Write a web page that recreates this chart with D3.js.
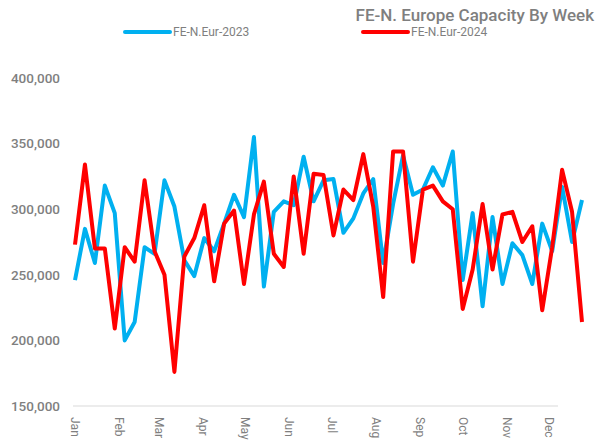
<!DOCTYPE html>
<html lang="en">
<head>
<meta charset="UTF-8">
<title>FE-N. Europe Capacity By Week</title>
<script src="https://d3js.org/d3.v7.min.js"></script>
<style>
    body { margin: 0; background: #fff; }
    text { font-family: Roboto, "DejaVu Sans", sans-serif; fill: #7f7f7f; }
</style>
</head>
<body>
<svg id="chart" width="597" height="443"></svg>
<script>
    // weekly values, 52 weeks
    const weeks = d3.range(52).map(i => new Date(2023, 0, 1 + 7 * i));

    const eur2023 = [246000, 285000, 259000, 318000, 297000, 200000, 214000, 271000, 266000, 322000,
        302000, 261000, 249000, 278000, 268000, 289000, 311000, 294000, 355000, 241000,
        298000, 306000, 303000, 340000, 306000, 322000, 323000, 282000, 293000, 312000,
        323000, 259000, 304000, 341000, 311000, 315000, 332000, 318000, 344000, 246000,
        297000, 226000, 294000, 243000, 274000, 265000, 243000, 289000, 268000, 317000,
        275000, 307000];

    const eur2024 = [273000, 334000, 270000, 270000, 209000, 271000, 260000, 322000, 268000, 250000,
        176000, 264000, 278000, 303000, 245000, 289000, 299000, 243000, 296000, 321000,
        266000, 256000, 325000, 266000, 327000, 326000, 280000, 315000, 307000, 342000,
        302000, 233000, 344000, 344000, 260000, 315000, 318000, 306000, 300000, 224000,
        254000, 304000, 254000, 296000, 298000, 275000, 287000, 223000, 271000, 330000,
        298000, 214000];

    const yTicks = [150000, 200000, 250000, 300000, 350000, 400000];
    const months = d3.timeMonth.range(new Date(2023, 0, 1), new Date(2023, 11, 2));

    const series = [
        { name: 'FE-N.Eur-2023', values: eur2023, color: '#00b0f0' },
        { name: 'FE-N.Eur-2024', values: eur2024, color: '#ff0000' }
    ];

    const svg = d3.select('#chart');

    const x = d3.scaleTime()
        .domain([weeks[0], weeks[51]])
        .range([75, 582]);

    const y = d3.scaleLinear()
        .domain([150000, 400000])
        .range([406, 78]);

    // bottom axis line
    svg.append('line')
        .attr('x1', 73).attr('x2', 558)
        .attr('y1', y(150000)).attr('y2', y(150000))
        .attr('stroke', '#d9d9d9').attr('stroke-width', 1);

    // y labels
    svg.append('g')
        .selectAll('text')
        .data(yTicks)
        .join('text')
        .attr('x', 60)
        .attr('y', d => y(d))
        .attr('dy', '0.35em')
        .attr('text-anchor', 'end')
        .attr('font-size', 13.5)
        .attr('font-weight', 500)
        .text(d => d3.format(',')(d));

    // month labels, rotated
    svg.append('g')
        .selectAll('text')
        .data(months)
        .join('text')
        .attr('transform', d => `translate(${x(d) - 4},417) rotate(90)`)
        .attr('font-size', 12)
        .text(d => d3.timeFormat('%b')(d));

    // lines
    const line = d3.line()
        .x((d, i) => x(weeks[i]))
        .y(d => y(d));

    svg.append('g')
        .selectAll('path')
        .data(series)
        .join('path')
        .attr('d', d => line(d.values))
        .attr('fill', 'none')
        .attr('stroke', d => d.color)
        .attr('stroke-width', 4)
        .attr('stroke-linejoin', 'round');

    // title
    svg.append('text')
        .attr('x', 594)
        .attr('y', 21)
        .attr('text-anchor', 'end')
        .attr('font-size', 17)
        .attr('font-weight', 500)
        .text('FE-N. Europe Capacity By Week');

    // legend
    const legend = svg.append('g')
        .selectAll('g')
        .data(series)
        .join('g')
        .attr('transform', (d, i) => `translate(${i === 0 ? 125 : 363},32)`);

    legend.append('line')
        .attr('x1', 0).attr('x2', 45)
        .attr('stroke', d => d.color)
        .attr('stroke-width', 4)
        .attr('stroke-linecap', 'round');

    legend.append('text')
        .attr('x', 48)
        .attr('dy', '0.35em')
        .attr('font-size', 12)
        .text(d => d.name);
</script>
</body>
</html>
